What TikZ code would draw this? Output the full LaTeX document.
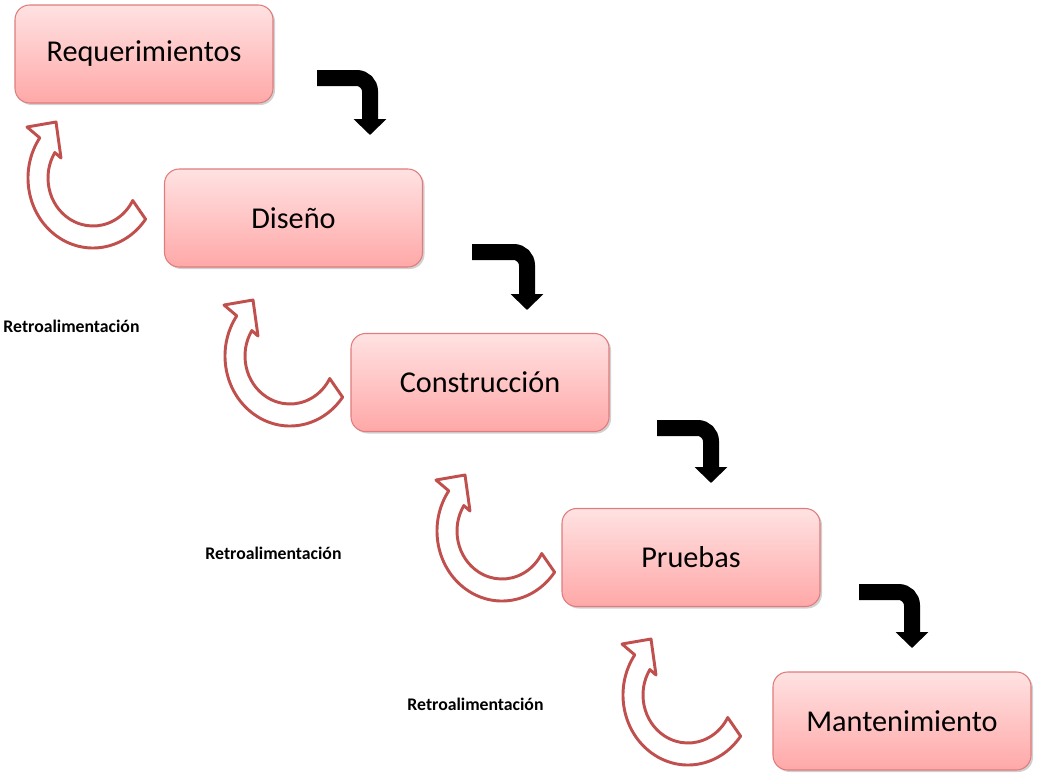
\documentclass[tikz,border=0pt]{standalone}
\usepackage{fontspec}
\setmainfont{Carlito}
\usetikzlibrary{arrows.meta,shadows}
\definecolor{boxtop}{HTML}{FFE2E2}
\definecolor{boxbot}{HTML}{FFA8A8}
\definecolor{boxline}{HTML}{E07C7C}
\definecolor{fbred}{HTML}{C0504D}
% hollow feedback arrow, centred on its arc
\def\fbarrow{(-36:65 and 70) arc[start angle=-36, end angle=-215, x radius=65, y radius=70] -- (-66,51) -- (-37,56) -- (-32,20) -- (148:45 and 48) arc[start angle=148, end angle=332, x radius=45, y radius=48] -- cycle}
\tikzset{
  fase/.style={rectangle, rounded corners=11pt, draw=boxline, line width=0.8pt,
    top color=boxtop, bottom color=boxbot, minimum width=193.5pt, minimum height=73.5pt,
    font=\fontsize{22.7}{27}\selectfont,
    drop shadow={shadow xshift=1.5pt, shadow yshift=-1.5pt, opacity=0.3, fill=black!60}},
  retro/.style={font=\fontsize{13.3}{16}\selectfont\bfseries},
  bajada/.style={line width=12pt, rounded corners=10pt, -{Triangle[width=24pt,length=12pt]}},
  fb/.style={draw=fbred, line width=2.2pt, fill=white, line join=round}
}
\begin{document}
\begin{tikzpicture}[x=0.75pt,y=0.75pt]
  \useasboundingbox (0,0) rectangle (1049,-778);
  \node[fase] (req) at (144,-54) {Requerimientos};
  \node[fase] (dis) at (293.5,-218) {Diseño};
  \node[fase] (con) at (480,-382.5) {Construcción};
  \node[fase] (pru) at (691,-557.5) {Pruebas};
  \node[fase] (man) at (902,-721) {Mantenimiento};

  \coordinate (b1) at (317,-78);  \coordinate (t1) at (370,-135);
  \coordinate (b2) at (472,-252); \coordinate (t2) at (527,-310);
  \coordinate (b3) at (657,-428); \coordinate (t3) at (711,-483);
  \coordinate (b4) at (859,-592); \coordinate (t4) at (912,-648);
  \foreach \i in {1,...,4}
    \draw[bajada] (b\i) -| (t\i);

  \foreach \cx/\cy in {93/178, 290/356, 502/531, 688/695}
    \draw[fb, shift={(\cx,-\cy)}] \fbarrow;

  \node[retro] (r1) at (71.5,-326) {Retroalimentación};
  \node[retro] (r2) at (273.5,-553) {Retroalimentación};
  \node[retro] (r3) at (475.5,-704) {Retroalimentación};
\end{tikzpicture}
\end{document}
